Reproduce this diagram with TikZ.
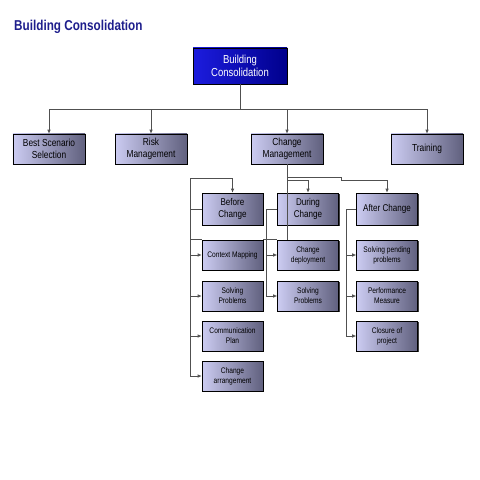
\documentclass[tikz,border=0pt]{standalone}
\usepackage{fontspec}
\setmainfont{Liberation Sans}[FakeStretch=0.82]
\usepackage{tikz}
\usetikzlibrary{arrows.meta,calc,positioning,shadows}
\definecolor{boxlight}{RGB}{204,204,242}
\definecolor{boxdark}{RGB}{96,96,126}
\definecolor{rootlight}{RGB}{28,28,222}
\definecolor{rootdark}{RGB}{0,0,140}
\definecolor{titleblue}{RGB}{30,30,140}
\definecolor{linegray}{RGB}{80,80,80}

\tikzset{
  conn/.style={draw=linegray, line width=0.6pt},
  arr/.style={conn, -{Latex[length=3.5pt,width=3pt]}},
  box/.style={draw=black, line width=0.4pt, left color=boxlight, right color=boxdark,
    align=center, inner sep=1pt,
    drop shadow={shadow xshift=1.2pt, shadow yshift=-1.2pt, fill=black, opacity=0.75}},
  rootbox/.style={box, left color=rootlight, right color=rootdark, text=white,
    minimum width=2.82cm, minimum height=1.08cm, font=\fontsize{9.9}{10.7}\selectfont},
  lvlbox/.style={box, minimum width=2.16cm, minimum height=0.9cm, font=\fontsize{8.7}{10.2}\selectfont},
  phasebox/.style={box, minimum width=1.83cm, minimum height=0.96cm, font=\fontsize{8.4}{10.4}\selectfont},
  taskbox/.style={box, minimum width=1.83cm, minimum height=0.9cm, font=\fontsize{6.9}{8.5}\selectfont}
}

\begin{document}
\begin{tikzpicture}[x=0.03cm, y=-0.03cm]
\useasboundingbox (0,0) rectangle (480,480);
% --- title ---
\node[anchor=west, text=titleblue, inner sep=0pt, font=\bfseries\fontsize{12.2}{13}\selectfont] (title) at (14,27) {Building Consolidation};

% --- top levels ---
\node[rootbox] (root) at (240,66) {Building\\Consolidation};
\node[lvlbox] (best) at (49,149) {Best Scenario\\Selection};
\node[lvlbox] (risk) at (151,149) {Risk\\Management};
\node[lvlbox] (change) at (287,149) {Change\\Management};
\node[lvlbox] (training) at (427,149) {Training};

% --- phases of the change ---
\node[phasebox] (before) at (232.5,209) {Before\\Change};
\node[phasebox] (during) at (308,209) {During\\Change};
\node[phasebox] (after) at (387,209) {After Change};

% --- tasks ---
\node[taskbox] (ctx) at (232.5,255) {Context Mapping};
\node[taskbox] (solveA) at (232.5,296) {Solving\\Problems};
\node[taskbox] (comm) at (232.5,336) {Communication\\Plan};
\node[taskbox] (arrange) at (232.5,376) {Change\\arrangement};
\node[taskbox] (deploy) at (308,255) {Change\\deployment};
\node[taskbox] (solveB) at (308,296) {Solving\\Problems};
\node[taskbox] (pending) at (387,255) {Solving pending\\problems};
\node[taskbox] (perf) at (387,296) {Performance\\Measure};
\node[taskbox] (closure) at (387,336) {Closure of\\project};

% --- connectors, level 1 ---
\coordinate (bus) at (240,109);
\draw[conn] (root) -- (bus);
\foreach \n in {best,risk,change,training} \draw[arr] (bus) -| (\n);

% --- connectors, change management ---
\draw[conn] (change) -- (change |- deploy.north);
\coordinate (railA) at (190,178);
\coordinate (railB) at (266,209);
\coordinate (railC) at (346,209);
\draw[arr] (railA) -| (before);
\draw[arr] ($(change.south)+(0,16)$) -| (during);
\draw[arr] ($(change.south)+(0,13)$) -- ++(54,0) -- ++(0,3) -| (after);

% before
\draw[conn] (railA) -- (railA |- arrange);
\draw[conn] (railA |- before) -- (before);
\draw[conn] (railA |- ctx.north) -- (ctx.north west);
\foreach \n in {ctx,solveA,comm,arrange} \draw[arr] (railA |- \n) -- (\n);

% during
\draw[conn] (railB) -- (railB |- solveB);
\draw[conn] (railB) -- (during);
\draw[conn] (ctx.north east) -- (deploy.north west);
\foreach \n in {deploy,solveB} \draw[arr] (railB |- \n) -- (\n);

% after
\draw[conn] (railC) -- (railC |- closure);
\draw[conn] (railC) -- (after);
\foreach \n in {pending,perf,closure} \draw[arr] (railC |- \n) -- (\n);
\end{tikzpicture}
\end{document}
